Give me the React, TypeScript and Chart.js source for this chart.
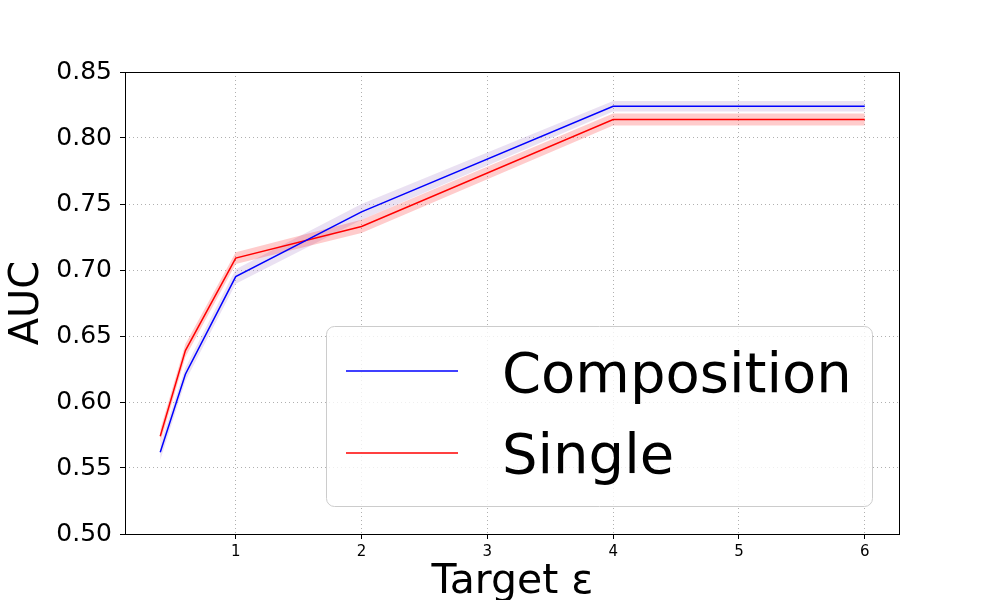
import React, { useEffect, useRef } from "react";
import { Chart, registerables } from "chart.js";

Chart.register(...registerables);

const xValues = [0.4, 0.6, 1, 2, 4, 6];
const compositionAuc = [0.562, 0.621, 0.695, 0.744, 0.824, 0.824];
const compositionSpread = [0.006, 0.005, 0.0055, 0.006, 0.004, 0.004];
const singleAuc = [0.574, 0.639, 0.709, 0.733, 0.814, 0.814];
const singleSpread = [0.005, 0.005, 0.0045, 0.005, 0.0045, 0.0045];
const xTicks = [1, 2, 3, 4, 5, 6];
const yTicks = [0.5, 0.55, 0.6, 0.65, 0.7, 0.75, 0.8, 0.85];
const seriesLabels = ["Composition", "Single"];
const seriesColors = ["#0000ff", "#ff0000"];
const bandColors = ["rgba(148,103,189,0.2)", "rgba(255,0,0,0.2)"];

const toPoints = (ys: number[]) => xValues.map((x, i) => ({ x, y: ys[i] }));
const shift = (ys: number[], d: number[], s: number) => ys.map((v, i) => v + s * d[i]);

const framePlugin = {
  id: "frameAndLegend",
  afterDraw(chart: any) {
    const { ctx, chartArea } = chart;
    ctx.save();
    ctx.strokeStyle = "#000";
    ctx.lineWidth = 1;
    ctx.setLineDash([]);
    ctx.strokeRect(chartArea.left + 0.5, chartArea.top + 0.5, chartArea.right - chartArea.left - 1, chartArea.bottom - chartArea.top);
    // legend
    const bx = chartArea.left + 201;
    const by = chartArea.top + 254;
    const bw = 546;
    const bh = 180;
    ctx.beginPath();
    ctx.roundRect(bx + 0.5, by + 0.5, bw, bh, 8);
    ctx.fillStyle = "rgba(255,255,255,0.8)";
    ctx.fill();
    ctx.strokeStyle = "#cccccc";
    ctx.lineWidth = 1;
    ctx.stroke();
    const rows = [by + 45, by + 127];
    const bases = [by + 66, by + 147];
    seriesLabels.forEach((lab, i) => {
      ctx.beginPath();
      ctx.strokeStyle = seriesColors[i];
      ctx.lineWidth = 1.5;
      ctx.moveTo(bx + 20, rows[i]);
      ctx.lineTo(bx + 132, rows[i]);
      ctx.stroke();
      ctx.fillStyle = "#000";
      ctx.font = "56px 'DejaVu Sans'";
      ctx.textBaseline = "alphabetic";
      ctx.textAlign = "left";
      ctx.fillText(lab, bx + 176, bases[i]);
    });
    ctx.restore();
  },
};

export default function App() {
  const ref = useRef<HTMLCanvasElement>(null);
  useEffect(() => {
    if (!ref.current) return;
    Chart.defaults.font.family = "'DejaVu Sans'";
    const chart = new Chart(ref.current, {
      type: "line",
      data: {
        datasets: [
          {
            label: seriesLabels[0],
            data: toPoints(compositionAuc),
            borderColor: seriesColors[0],
            borderWidth: 1.5,
            pointRadius: 0,
            fill: false,
            order: 0,
          },
          {
            label: seriesLabels[1],
            data: toPoints(singleAuc),
            borderColor: seriesColors[1],
            borderWidth: 1.5,
            pointRadius: 0,
            fill: false,
            order: 0,
          },
          {
            label: "comp-upper",
            data: toPoints(shift(compositionAuc, compositionSpread, 1)),
            borderWidth: 0,
            borderColor: "rgba(0,0,0,0)",
            pointRadius: 0,
            fill: false,
            order: 2,
          },
          {
            label: "comp-lower",
            data: toPoints(shift(compositionAuc, compositionSpread, -1)),
            borderWidth: 0,
            borderColor: "rgba(0,0,0,0)",
            backgroundColor: bandColors[0],
            pointRadius: 0,
            fill: "-1",
            order: 2,
          },
          {
            label: "single-upper",
            data: toPoints(shift(singleAuc, singleSpread, 1)),
            borderWidth: 0,
            borderColor: "rgba(0,0,0,0)",
            pointRadius: 0,
            fill: false,
            order: 1,
          },
          {
            label: "single-lower",
            data: toPoints(shift(singleAuc, singleSpread, -1)),
            borderWidth: 0,
            borderColor: "rgba(0,0,0,0)",
            backgroundColor: bandColors[1],
            pointRadius: 0,
            fill: "-1",
            order: 1,
          },
        ],
      },
      options: {
        responsive: false,
        animation: false,
        layout: { padding: { left: 0, top: 72, right: 100, bottom: 0 } },
        plugins: { legend: { display: false }, tooltip: { enabled: false } },
        scales: {
          x: {
            type: "linear",
            min: 0.12,
            max: 6.28,
            afterBuildTicks: (s: any) => {
              s.ticks = xTicks.map((v) => ({ value: v }));
            },
            afterFit: (s: any) => {
              s.height = 66;
            },
            ticks: {
              color: "#000",
              font: { size: 15 },
              padding: 4,
              maxRotation: 0,
              autoSkip: false,
              callback: (v: any) => String(v),
            },
            grid: { color: "#b0b0b0", lineWidth: 1, tickColor: "#000", tickLength: 5, tickBorderDash: [] },
            border: { display: false, dash: [1, 3] },
            title: {
              display: true,
              text: "Target ε",
              color: "#000",
              font: { size: 41, lineHeight: 0.85 },
              padding: 0,
            },
          },
          y: {
            type: "linear",
            min: 0.5,
            max: 0.85,
            afterBuildTicks: (s: any) => {
              s.ticks = yTicks.map((v) => ({ value: v }));
            },
            afterFit: (s: any) => {
              s.width = 125;
            },
            ticks: {
              color: "#000",
              font: { size: 25 },
              padding: 8,
              autoSkip: false,
              callback: (v: any) => Number(v).toFixed(2),
            },
            grid: { color: "#b0b0b0", lineWidth: 1, tickColor: "#000", tickLength: 5, tickBorderDash: [] },
            border: { display: false, dash: [1, 3] },
            title: {
              display: true,
              text: "AUC",
              color: "#000",
              font: { size: 40, lineHeight: 1 },
              padding: { top: 8, bottom: 0 },
            },
          },
        },
      },
      plugins: [framePlugin],
    });
    return () => chart.destroy();
  }, []);
  return (
    <div style={{ position: "absolute", left: 0, top: 0, width: 1000, height: 600, background: "#fff" }}>
      <canvas ref={ref} width={1000} height={600} style={{ display: "block" }} />
    </div>
  );
}
